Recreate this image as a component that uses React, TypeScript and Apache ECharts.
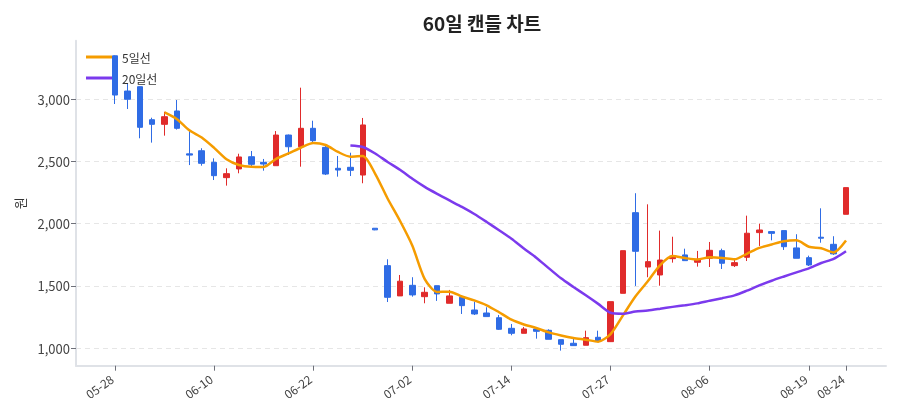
import React, { useEffect, useRef } from "react";
import * as echarts from "echarts";

// 거래일 (60일)
const dates = [
  "05-28", "05-29", "05-30", "05-31", "06-03", "06-04", "06-05", "06-07",
  "06-10", "06-11", "06-12", "06-13", "06-14", "06-17", "06-18", "06-19",
  "06-22", "06-24", "06-25", "06-26", "06-27", "06-28", "06-29", "07-01",
  "07-02", "07-03", "07-04", "07-05", "07-08", "07-09", "07-10", "07-11",
  "07-14", "07-15", "07-16", "07-17", "07-18", "07-22", "07-23", "07-24",
  "07-27", "07-29", "07-30", "07-31", "08-01", "08-02", "08-04", "08-05",
  "08-06", "08-07", "08-08", "08-09", "08-12", "08-13", "08-14", "08-16",
  "08-19", "08-20", "08-22", "08-24",
];

const opens = [
  3347, 3064, 3099, 2834, 2797, 2904, 2560, 2585, 2492, 2369,
  2439, 2537, 2492, 2465, 2711, 2617, 2765, 2612, 2444, 2452,
  2390, 1963, 1663, 1420, 1505, 1414, 1502, 1361, 1409, 1307,
  1283, 1245, 1160, 1120, 1155, 1144, 1069, 1040, 1024, 1088,
  1053, 1441, 2088, 1652, 1588, 1719, 1749, 1690, 1722, 1783,
  1663, 1730, 1928, 1936, 1944, 1805, 1727, 1891, 1834, 2075,
];
const closes = [
  3032, 2998, 2773, 2797, 2858, 2765, 2550, 2484, 2385, 2401,
  2535, 2476, 2478, 2711, 2617, 2765, 2666, 2398, 2430, 2428,
  2792, 1950, 1409, 1538, 1428, 1449, 1436, 1420, 1342, 1275,
  1254, 1152, 1120, 1155, 1136, 1072, 1032, 1021, 1085, 1056,
  1374, 1783, 1778, 1695, 1708, 1738, 1703, 1714, 1786, 1682,
  1687, 1923, 1949, 1922, 1815, 1722, 1668, 1883, 1757, 2289,
];
const lows = [
  2960, 2920, 2685, 2650, 2706, 2755, 2470, 2465, 2350, 2305,
  2404, 2457, 2425, 2465, 2551, 2457, 2653, 2390, 2377, 2382,
  2324, 1947, 1371, 1420, 1414, 1361, 1380, 1361, 1275, 1267,
  1254, 1147, 1104, 1120, 1077, 1072, 981, 1021, 1024, 1056,
  1050, 1441, 1500, 1570, 1502, 1687, 1703, 1655, 1652, 1636,
  1652, 1700, 1821, 1866, 1789, 1722, 1660, 1847, 1749, 2075,
];
const highs = [
  3350, 3126, 3100, 2850, 2898, 2992, 2743, 2605, 2524, 2444,
  2561, 2583, 2519, 2743, 2715, 3091, 2826, 2629, 2543, 2569,
  2848, 1963, 1714, 1588, 1570, 1489, 1502, 1468, 1412, 1374,
  1329, 1267, 1195, 1171, 1155, 1152, 1069, 1077, 1141, 1141,
  1374, 1783, 2244, 2155, 1944, 1895, 1799, 1781, 1853, 1799,
  1708, 2064, 2000, 1936, 1944, 1915, 1743, 2123, 1899, 2289,
];

// 이동평균선
const ma5 = [
  null, null, null, null, 2892, 2838, 2749, 2691, 2608, 2517,
  2471, 2456, 2455, 2520, 2563, 2609, 2647, 2631, 2575, 2537,
  2543, 2400, 2202, 2023, 1823, 1555, 1452, 1454, 1415, 1384,
  1345, 1289, 1229, 1191, 1163, 1127, 1103, 1083, 1069, 1053,
  1114, 1264, 1415, 1537, 1668, 1740, 1724, 1712, 1730, 1725,
  1714, 1758, 1805, 1833, 1859, 1866, 1815, 1802, 1769, 1864,
];
const ma20 = [
  null, null, null, null, null, null, null, null, null, null,
  null, null, null, null, null, null, null, null, null, 2627,
  2615, 2563, 2495, 2432, 2360, 2295, 2239, 2186, 2134, 2077,
  2013, 1947, 1879, 1801, 1727, 1643, 1561, 1492, 1425, 1356,
  1285, 1277, 1295, 1303, 1317, 1332, 1345, 1360, 1382, 1402,
  1424, 1462, 1504, 1542, 1576, 1609, 1641, 1684, 1717, 1779,
];

const yTicks = { min: 1000, max: 3000, step: 500 };

const UP = "#e02b2b";
const DOWN = "#2f6ce5";
const FONT = "'Noto Sans CJK KR', 'Noto Sans', sans-serif";

const showLabel = (i: number) => i % 8 === 0 || i === dates.length - 1;

const App = () => {
  const chartRef = useRef<HTMLDivElement>(null);

  useEffect(() => {
    const chart = echarts.init(chartRef.current, null, { renderer: "svg" });
    const candles = dates.map((_, i) => [opens[i], closes[i], lows[i], highs[i]]);

    chart.setOption({
      animation: false,
      textStyle: { fontFamily: FONT },
      title: {
        text: "60일 캔들 차트",
        left: 477,
        top: 8,
        textAlign: "center",
        textStyle: { fontSize: 19, fontWeight: "bold", color: "#222", fontFamily: FONT },
      },
      legend: {
        data: ["5일선", "20일선"],
        orient: "vertical",
        left: 81,
        top: 46,
        icon: "rect",
        itemWidth: 26,
        itemHeight: 3,
        itemGap: 9,
        textStyle: { fontSize: 12, color: "#333", padding: [0, 0, 0, 5] },
      },
      grid: [
        // 프레임 (축선)
        { left: 76, right: 14, top: 40.7, bottom: 54.3 },
        // y축 눈금/격자
        { left: 76, right: 14, top: 99, bottom: 71.7 },
        // 데이터
        { left: 108.8, right: 47.8, top: 40.7, bottom: 54.3 },
      ],
      xAxis: [
        {
          gridIndex: 0,
          type: "value",
          min: 0,
          max: 1,
          axisLine: { show: true, lineStyle: { color: "#dfe2e7", width: 2 } },
          axisTick: { show: false },
          axisLabel: { show: false },
          splitLine: { show: false },
        },
        { gridIndex: 1, type: "value", show: false },
        {
          gridIndex: 2,
          type: "category",
          data: dates,
          axisLine: { show: false },
          axisTick: {
            show: true,
            alignWithLabel: true,
            interval: (i: number) => showLabel(i),
            length: 5,
            lineStyle: { color: "#6e7079" },
          },
          axisLabel: {
            interval: (i: number) => showLabel(i),
            rotate: 36,
            fontSize: 12,
            color: "#444",
            margin: 9,
            padding: [0, 4, 0, 0],
          },
        },
      ],
      yAxis: [
        {
          gridIndex: 0,
          type: "value",
          min: 0,
          max: 1,
          name: "원",
          nameLocation: "middle",
          nameGap: 50,
          nameRotate: 90,
          nameTextStyle: { fontSize: 13, color: "#333" },
          axisLine: { show: true, lineStyle: { color: "#dfe2e7", width: 2 } },
          axisTick: { show: false },
          axisLabel: { show: false },
          splitLine: { show: false },
        },
        {
          gridIndex: 1,
          type: "value",
          min: yTicks.min,
          max: yTicks.max,
          interval: yTicks.step,
          axisLine: { show: false },
          axisTick: { show: true, length: 5, lineStyle: { color: "#6e7079" } },
          axisLabel: {
            fontSize: 13,
            color: "#444",
            margin: 6,
            formatter: (v: number) => v.toLocaleString("en-US"),
          },
          splitLine: { show: true, lineStyle: { color: "#e6e6e6", type: [5, 4] } },
        },
        { gridIndex: 2, type: "value", min: 860, max: 3468, show: false },
      ],
      series: [
        {
          name: "캔들",
          type: "candlestick",
          xAxisIndex: 2,
          yAxisIndex: 2,
          data: candles,
          barWidth: 6,
          itemStyle: {
            color: UP,
            color0: DOWN,
            borderColor: UP,
            borderColor0: DOWN,
            borderWidth: 1,
          },
        },
        {
          name: "5일선",
          type: "line",
          xAxisIndex: 2,
          yAxisIndex: 2,
          data: ma5,
          smooth: 0.25,
          showSymbol: false,
          lineStyle: { color: "#f59c00", width: 2.5 },
          itemStyle: { color: "#f59c00" },
        },
        {
          name: "20일선",
          type: "line",
          xAxisIndex: 2,
          yAxisIndex: 2,
          data: ma20,
          smooth: 0.25,
          showSymbol: false,
          lineStyle: { color: "#7b3aed", width: 2.5 },
          itemStyle: { color: "#7b3aed" },
        },
      ],
    });

    return () => chart.dispose();
  }, []);

  return (
    <div
      ref={chartRef}
      style={{ position: "fixed", left: 0, top: 0, width: "900px", height: "420px" }}
    />
  );
};

export default App;
